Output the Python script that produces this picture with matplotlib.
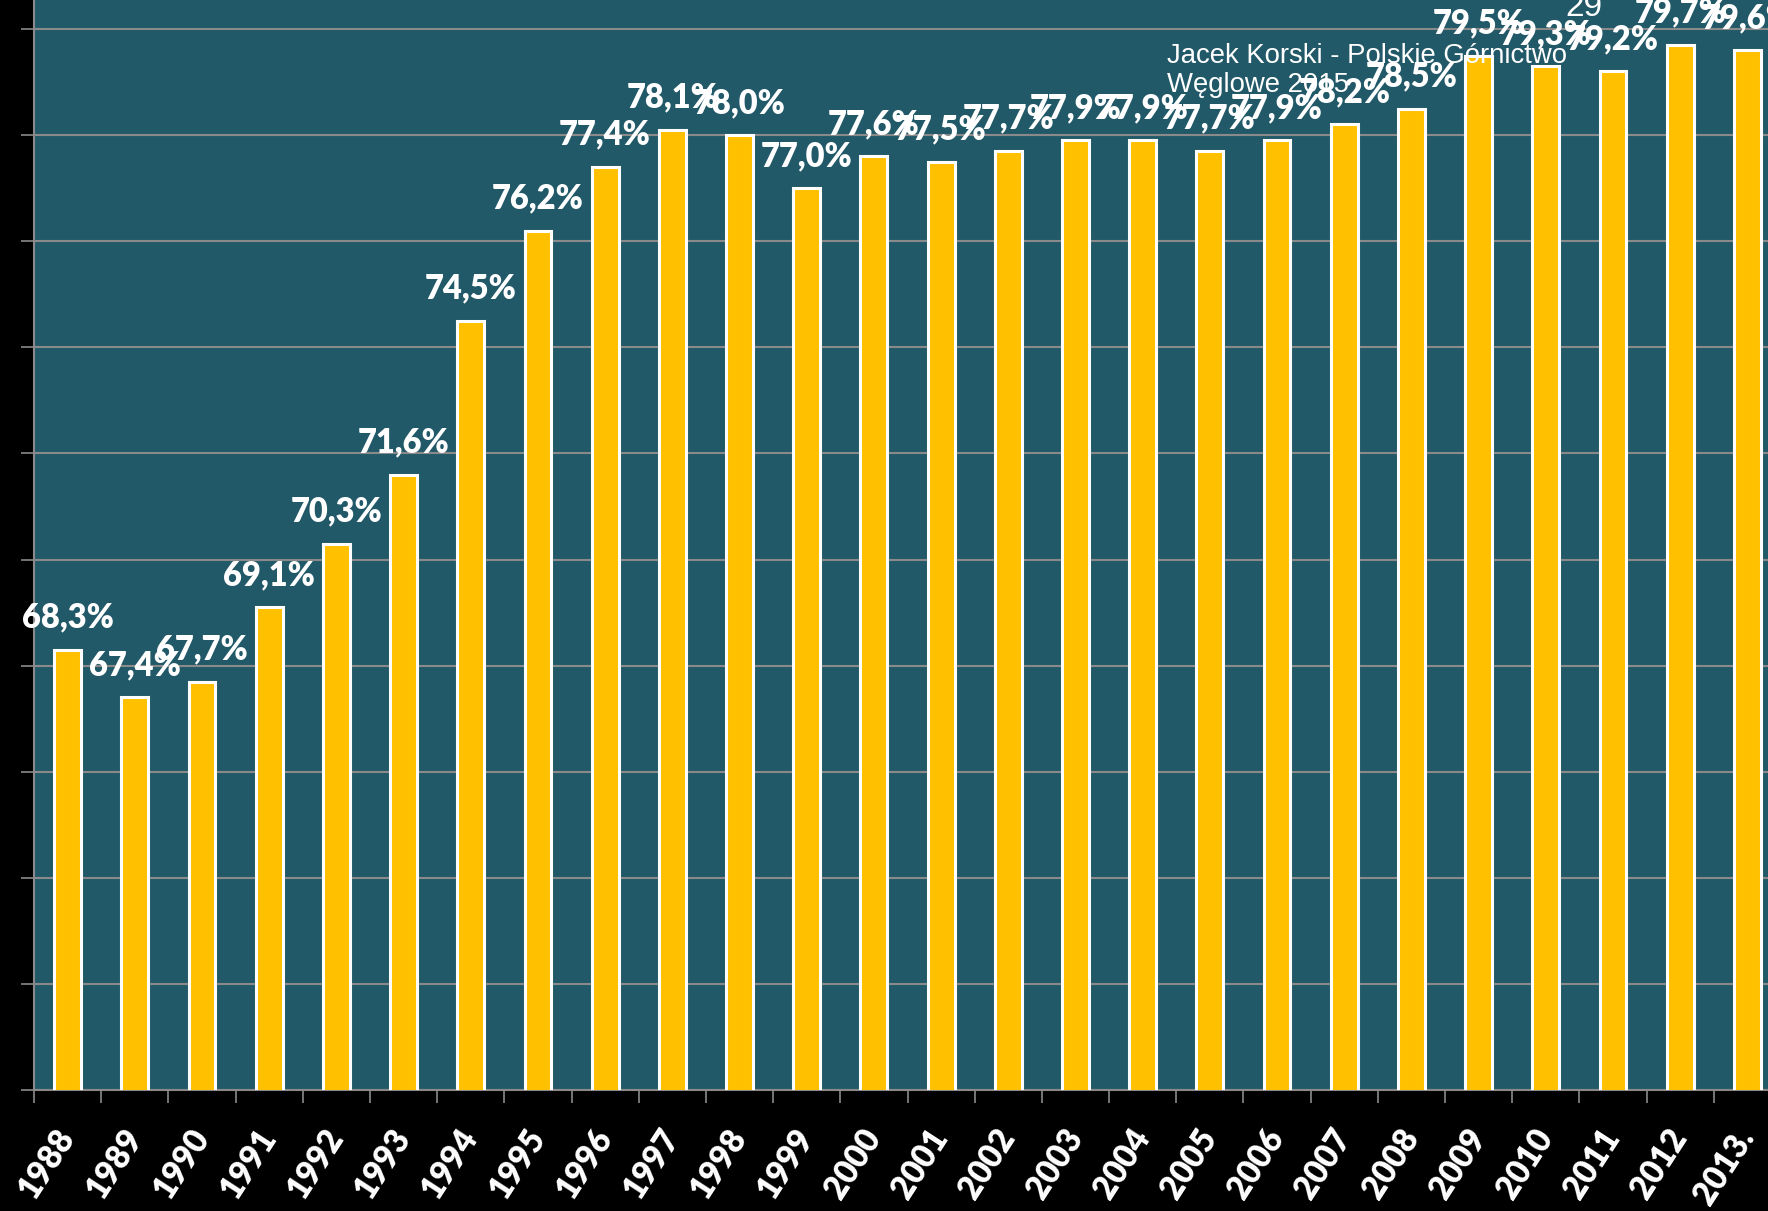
import matplotlib
matplotlib.use("Agg")
import matplotlib.pyplot as plt
import numpy as np

years = ["1988", "1989", "1990", "1991", "1992", "1993", "1994", "1995", "1996",
         "1997", "1998", "1999", "2000", "2001", "2002", "2003", "2004", "2005",
         "2006", "2007", "2008", "2009", "2010", "2011", "2012", "2013."]
values = [68.3, 67.4, 67.7, 69.1, 70.3, 71.6, 74.5, 76.2, 77.4, 78.1, 78.0, 77.0,
          77.6, 77.5, 77.7, 77.9, 77.9, 77.7, 77.9, 78.2, 78.5, 79.5, 79.3, 79.2,
          79.7, 79.6]
yticks = [60, 62, 64, 66, 68, 70, 72, 74, 76, 78, 80]
watermark_lines = ["Jacek Korski - Polskie Górnictwo", "Węglowe 2015"]
page_no = "29"

W, H = 1768, 1211
fig = plt.figure(figsize=(W / 100, H / 100), dpi=100, facecolor="black")
left = 34 / W
bottom = (H - 1090) / H
ax = fig.add_axes([left, bottom, 1747 / W, 1 - bottom])
ax.set_facecolor("#225968")

x = np.arange(len(years))
ax.bar(x, values, width=0.4, color="#FFC000", edgecolor="white", linewidth=2.2,
       zorder=3)
ax.set_xlim(-0.5, len(years) - 0.5)
ax.set_ylim(60, 60 + 1090 / 53.05)

ax.set_yticks(yticks)
ax.yaxis.grid(True, color="#8a8a8a", linewidth=1.5, zorder=1)
ax.set_axisbelow(True)
ax.tick_params(axis="y", length=9.5, width=1.2, color="#8a8a8a", labelleft=False)

ax.set_xticks(x)
ax.set_xticklabels(years, rotation=57, ha="right", va="center",
                   rotation_mode="anchor", color="white",
                   fontfamily="Lato", fontweight="heavy", fontsize=23.5)
ax.tick_params(axis="x", which="major", length=0, pad=30)
ax.set_xticks(np.arange(len(years) + 1) - 0.5, minor=True)
ax.tick_params(axis="x", which="minor", length=9.5, width=1.2, color="#8a8a8a")

for s in ["top", "right"]:
    ax.spines[s].set_visible(False)
for s in ["left", "bottom"]:
    ax.spines[s].set_color("#8a8a8a")
    ax.spines[s].set_linewidth(1.5)

for xi, v in zip(x, values):
    ax.annotate(f"{v:.1f}%".replace(".", ","), (xi, v), xytext=(0, 16),
                textcoords="offset points", ha="center", va="baseline",
                color="white", fontfamily="Lato", fontweight="heavy",
                fontsize=23.5, zorder=6)

for i, line in enumerate(watermark_lines):
    fig.text(1167 / W, 1 - (63 + 29 * i) / H, line, ha="left", va="baseline",
             color="white", fontfamily="Liberation Sans", fontsize=19.8, zorder=5)
fig.text(1565 / W, 1 - 16 / H, page_no, ha="left", va="baseline",
         color="white", fontfamily="Liberation Sans", fontsize=24, zorder=5)

fig.savefig("out.png", dpi=100, facecolor="black")
